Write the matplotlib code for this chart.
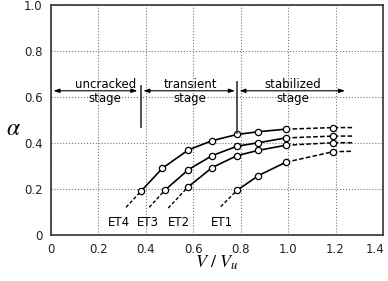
import matplotlib
matplotlib.use('Agg')
import matplotlib.pyplot as plt
import matplotlib.transforms as mtransforms

plt.rcParams['font.family'] = ['DejaVu Sans']
plt.rcParams['mathtext.fontset'] = 'stix'

# measured points (solid part), last point is at V/Vu ~ 1.0
SERIES = ['ET4', 'ET3', 'ET2', 'ET1']
X_SOLID = {
  'ET4': [0.38, 0.47, 0.58, 0.68, 0.785, 0.875, 0.99],
  'ET3': [0.48, 0.58, 0.68, 0.785, 0.875, 0.99],
  'ET2': [0.58, 0.68, 0.785, 0.875, 0.99],
  'ET1': [0.785, 0.875, 0.99],
}
Y_SOLID = {
  'ET4': [0.19, 0.29, 0.37, 0.41, 0.437, 0.449, 0.46],
  'ET3': [0.194, 0.284, 0.345, 0.386, 0.401, 0.422],
  'ET2': [0.21, 0.293, 0.345, 0.368, 0.39],
  'ET1': [0.194, 0.258, 0.316],
}
# dashed extrapolation: point at 1.19 and line end at 1.275
X_TAIL = [1.19, 1.275]
Y_TAIL = {
  'ET4': [0.467, 0.467],
  'ET3': [0.43, 0.43],
  'ET2': [0.401, 0.401],
  'ET1': [0.362, 0.364],
}
# dashed lead-in start
LEAD = {
  'ET4': (0.317, 0.12),
  'ET3': (0.415, 0.12),
  'ET2': (0.495, 0.117),
  'ET1': (0.716, 0.123),
}
LABEL_X = {'ET4': 0.285, 'ET3': 0.411, 'ET2': 0.54, 'ET1': 0.72}

XTICKS = [0, 0.2, 0.4, 0.6, 0.8, 1.0, 1.2, 1.4]
XTICK_LABELS = ['0', '0.2', '0.4', '0.6', '0.8', '1.0', '1.2', '1.4']
YTICKS = [0, 0.2, 0.4, 0.6, 0.8, 1.0]
YTICK_LABELS = ['0', '0.2', '0.4', '0.6', '0.8', '1.0']

# stage arrows: (x start, x end), text x
STAGES = [
  ('uncracked\nstage', 0.011, 0.365, 0.229),
  ('transient\nstage', 0.39, 0.776, 0.587),
  ('stabilized\nstage', 0.795, 1.24, 1.02),
]
STAGE_Y = 0.627
# vertical separators: x, y from, y to
SEPARATORS = [(0.38, 0.471, 0.648), (0.786, 0.443, 0.667)]


fig = plt.figure(figsize=(3.88, 2.81), dpi=100)
ax = fig.add_axes([0.131, 0.164, 0.856, 0.818])
ax.set_xlim(0, 1.4)
ax.set_ylim(0, 1.0)

ax.set_xticks(XTICKS)
ax.set_xticklabels(XTICK_LABELS)
ax.set_yticks(YTICKS)
ax.set_yticklabels(YTICK_LABELS)
ax.tick_params(length=0, labelsize=8.5, pad=6, colors='#222222')
ax.grid(color='#777777', linestyle=':', linewidth=0.8)
ax.set_axisbelow(True)
for spine in ax.spines.values():
  spine.set_color('#333333')
  spine.set_linewidth(1.2)

# last x label sits just inside the right border
last = ax.get_xticklabels()[-1]
last.set_transform(last.get_transform() +
                   mtransforms.ScaledTranslation(-6 / 72, 0, fig.dpi_scale_trans))

for name in SERIES:
  xs, ys = X_SOLID[name], Y_SOLID[name]
  lx, ly = LEAD[name]
  ax.plot([lx, xs[0]], [ly, ys[0]], color='black', linestyle=(0, (2.5, 1.5)), linewidth=1)
  ax.plot([xs[-1]] + X_TAIL, [ys[-1]] + Y_TAIL[name], color='black',
          linestyle=(0, (3, 1.5)), linewidth=1.1)
  ax.plot(xs, ys, color='black', linewidth=1.2, marker='o', markersize=4.5,
          markerfacecolor='white', markeredgecolor='black', markeredgewidth=0.9)
  ax.plot(X_TAIL[:1], Y_TAIL[name][:1], linestyle='none', marker='o', markersize=4.5,
          markerfacecolor='white', markeredgecolor='black', markeredgewidth=0.9)
  ax.text(LABEL_X[name], 0.053, name, ha='center', va='center', fontsize=8.5)

for text, x0, x1, xt in STAGES:
  ax.annotate('', xy=(x1, STAGE_Y), xytext=(x0, STAGE_Y),
              arrowprops=dict(arrowstyle='<|-|>,head_length=0.35,head_width=0.12',
                              color='black', linewidth=0.8, shrinkA=0, shrinkB=0))
  ax.text(xt, STAGE_Y - 0.005, text, ha='center', va='center', fontsize=8.5,
          linespacing=1.1)

for xs, y0, y1 in SEPARATORS:
  ax.plot([xs, xs], [y0, y1], color='#333333', linewidth=1.2)

fig.text(0.035, 0.545, r'$\alpha$', fontsize=17, ha='center', va='center')
fig.text(0.56, 0.065, r'$V\ /\ V_u$', fontsize=13, ha='center', va='center')

plt.savefig('out.png', dpi=100)
plt.close()
